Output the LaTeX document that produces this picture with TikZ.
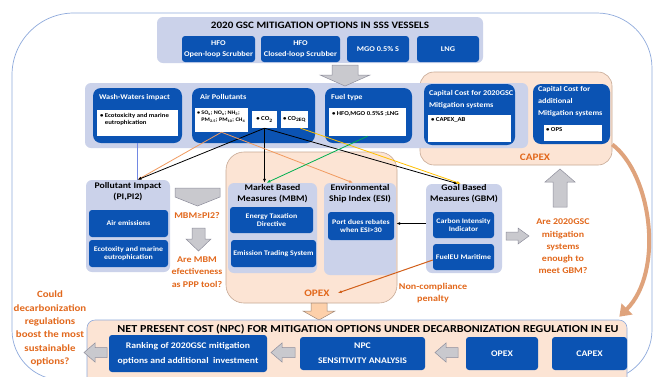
\documentclass[tikz,border=0pt]{standalone}
\usepackage{fontspec}
\setmainfont{Carlito}[FakeStretch=1.13]
\usetikzlibrary{arrows.meta,positioning,calc}

\definecolor{gscblue}{HTML}{0B53B3}
\definecolor{lav}{HTML}{CBD2EA}
\definecolor{peach}{HTML}{FCE4D4}
\definecolor{peachline}{HTML}{C7A995}
\definecolor{qorange}{HTML}{E2681C}
\definecolor{framebl}{HTML}{8FAADC}
\definecolor{arrowgray}{HTML}{C9C9CE}
\definecolor{arrowline}{HTML}{8E8E9C}
\definecolor{lightorange}{HTML}{F19A5E}
\definecolor{penaltyor}{HTML}{D2601A}
\definecolor{curvetan}{HTML}{DFA37C}
\definecolor{goldline}{HTML}{FFC000}
\definecolor{greenline}{HTML}{00B050}

\tikzset{
  bluebox/.style={fill=gscblue, rounded corners=3pt, text=white, align=center, inner sep=1pt,
    font=\bfseries\fontsize{7}{8.3}\selectfont},
  optbox/.style={bluebox, font=\bfseries\fontsize{7.3}{11.5}\selectfont},
  npcbox/.style={bluebox, font=\bfseries\fontsize{8.6}{15}\selectfont},
  bigblue/.style={fill=gscblue, rounded corners=8pt, inner sep=0pt},
  boxtitle/.style={text=white, font=\bfseries\fontsize{7.3}{12}\selectfont, align=left, inner sep=0pt, anchor=north west},
  lavbox/.style={fill=lav, rounded corners=6pt, inner sep=0pt},
  lavtitle/.style={font=\bfseries\fontsize{8.6}{11}\selectfont, align=center, inner sep=0pt},
  itembox/.style={fill=white, inner sep=0pt, font=\bfseries\fontsize{6}{7.5}\selectfont},
  itemtext/.style={font=\bfseries\fontsize{6}{7.5}\selectfont, align=left, inner sep=0pt, anchor=north west},
  peachbox/.style={fill=peach, draw=peachline, line width=0.6pt, rounded corners=14pt, inner sep=0pt},
  qtext/.style={text=qorange, font=\bfseries\fontsize{8.8}{12.2}\selectfont, align=center, inner sep=0pt},
  costlabel/.style={qtext, font=\bfseries\fontsize{9.9}{11}\selectfont},
  grayarrow/.style={fill=arrowgray, draw=arrowline, line width=0.5pt},
  link/.style={-{Latex[length=4pt,width=3pt]}, line width=0.8pt},
}

\begin{document}
\begin{tikzpicture}[x=1pt, y=-1pt]
  \useasboundingbox (0,0) rectangle (655,376);
  \clip (0,0) rectangle (655,376);
  \fill[white] (0,0) rectangle (655,376);

  % outer frame
  \draw[framebl, line width=0.7pt] (12,200) [rounded corners=62pt] -- (12,13) -- (330,13)
    [rounded corners=55pt] -- (652,13) -- (652,200)
    [rounded corners=50pt] -- (652,380) -- (330,380) -- (12,380) -- cycle;

  % mitigation options
  \node[lavbox, minimum width=326pt, minimum height=46pt] (optGrp) at (320,40) {};
  \node[font=\bfseries\fontsize{9.8}{10}\selectfont, inner sep=0pt] (optTitle) at (320,25) {2020 GSC MITIGATION OPTIONS IN SSS VESSELS};
  \node[optbox, minimum width=73pt, minimum height=26pt] (hfoOpen) at (218.5,49) {HFO\\Open-loop Scrubber};
  \node[optbox, minimum width=79pt, minimum height=26pt] (hfoClosed) at (300.5,49) {HFO\\Closed-loop Scrubber};
  \node[optbox, minimum width=62pt, minimum height=26pt] (mgo) at (378,49) {MGO 0.5\% S};
  \node[optbox, minimum width=62pt, minimum height=26pt] (lng) at (448,49) {LNG};

  % capex group and middle band
  \node[peachbox, minimum width=192pt, minimum height=93pt] (capexGrp) at (516,118.5) {};
  \node[lavbox, minimum width=443pt, minimum height=65pt] (midBand) at (306.5,115.5) {};
  \draw[grayarrow] (332,65) -- (358,65) -- (358,75) -- (370,75) -- (345,86) -- (320,75) -- (332,75) -- cycle;

  \node[bigblue, minimum width=89pt, minimum height=55pt] (wash) at (137.5,115.5) {};
  \node[boxtitle] (washTitle) at ([shift={(6pt,-6pt)}]wash.north west) {Wash-Waters impact};
  \node[itembox, minimum width=81pt, minimum height=26pt] (washItem) at (137.5,123) {};
  \node[itemtext] (washText) at ([shift={(3pt,-3pt)}]washItem.north west) {• Ecotoxicity and marine\\\phantom{•\ }eutrophication};

  \node[bigblue, minimum width=123pt, minimum height=55pt] (air) at (253.5,115.5) {};
  \node[boxtitle] (airTitle) at ([shift={(8pt,-6pt)}]air.north west) {Air Pollutants};
  \node[itembox, minimum width=53pt, minimum height=24pt] (airGas) at (221.5,120) {};
  \node[itemtext, font=\bfseries\fontsize{5.4}{7.5}\selectfont] (airGasText) at ([shift={(2pt,-2.5pt)}]airGas.north west)
    {• SO\textsubscript{x}; NO\textsubscript{x}; NH\textsubscript{3};\\\phantom{•\ }PM\textsubscript{2.5}; PM\textsubscript{10}; CH\textsubscript{4}};
  \node[itembox, minimum width=25pt, minimum height=17pt] (airCO) at (264.5,119.5) {• CO\textsubscript{2}};
  \node[itembox, minimum width=27pt, minimum height=17pt] (airCOeq) at (294.5,119.5) {• CO\textsubscript{2EQ}};

  \node[bigblue, minimum width=87pt, minimum height=55pt] (fuel) at (368.5,115.5) {};
  \node[boxtitle] (fuelTitle) at ([shift={(6pt,-6pt)}]fuel.north west) {Fuel type};
  \node[itembox, minimum width=77pt, minimum height=28pt] (fuelItem) at (367.5,122) {};
  \node[itemtext] (fuelText) at ([shift={(3pt,-3pt)}]fuelItem.north west) {• HFO,MGO 0.5\%S ;LNG};

  \node[bigblue, minimum width=91pt, minimum height=61pt] (capAB) at (469.5,114.5) {};
  \node[boxtitle] (capABTitle) at ([shift={(5pt,-6pt)}]capAB.north west) {Capital Cost for 2020GSC\\Mitigation systems};
  \node[itembox, minimum width=83pt, minimum height=27pt] (capABItem) at (469.5,128.5) {};
  \node[itemtext] (capABText) at ([shift={(3pt,-3pt)}]capABItem.north west) {• CAPEX\_AB};

  \node[bigblue, minimum width=77pt, minimum height=60pt] (capAdd) at (571.5,114) {};
  \node[boxtitle] (capAddTitle) at ([shift={(5pt,-2pt)}]capAdd.north west) {Capital Cost for\\additional\\Mitigation systems};
  \node[itembox, minimum width=58pt, minimum height=16pt] (capAddItem) at (573,133) {};
  \node[itemtext] (capAddText) at ([shift={(2pt,-3pt)}]capAddItem.north west) {• OPS};
  \node[costlabel] (capexLabel) at (535,157) {CAPEX};

  % pollutant impact
  \node[lavbox, minimum width=84pt, minimum height=92pt] (piGrp) at (128,226) {};
  \node[lavtitle] (piTitle) at (128,192) {Pollutant Impact\\(PI,PI2)};
  \node[bluebox, minimum width=79pt, minimum height=27pt] (piAir) at (128.5,223.5) {Air emissions};
  \node[bluebox, minimum width=79pt, minimum height=27pt] (piEco) at (128.5,253.5) {Ecotoxity and marine\\eutrophication};
  \draw[grayarrow] (175,188) -- (220,188) -- (220,197) -- (197.5,206) -- (175,197) -- cycle;
  \node[qtext] (qMbm) at (197,215) {MBM≥PI2?};
  \draw[grayarrow] (192,228) -- (205,228) -- (205,239) -- (211,239) -- (198.5,251) -- (186,239) -- (192,239) -- cycle;
  \node[qtext] (qPpp) at (197,272) {Are MBM\\efectiveness\\as PPP tool?};

  % opex group
  \node[peachbox, rounded corners=18pt, minimum width=171pt, minimum height=151pt] (opexGrp) at (311.5,227.5) {};
  \node[costlabel] (opexLabel) at (317,293) {OPEX};
  \node[lavbox, minimum width=89pt, minimum height=90pt] (mbm) at (272.5,228) {};
  \node[lavtitle] (mbmTitle) at (272.5,193.5) {Market Based\\Measures (MBM)};
  \node[bluebox, minimum width=83pt, minimum height=26pt] (mbmEtd) at (271.5,220) {Energy Taxation\\Directive};
  \node[bluebox, minimum width=85pt, minimum height=27pt] (mbmEts) at (273.5,253.5) {Emission Trading System};
  \node[lavbox, minimum width=72pt, minimum height=92pt] (esi) at (360,229) {};
  \node[lavtitle] (esiTitle) at (360,193.5) {Environmental\\Ship Index (ESI)};
  \node[bluebox, minimum width=66pt, minimum height=28pt] (esiPort) at (361,226) {Port dues rebates\\when ESI>30};

  % goal based measures
  \node[lavbox, minimum width=76pt, minimum height=89pt] (gbm) at (464,228.5) {};
  \node[lavtitle] (gbmTitle) at (464,193.5) {Goal Based\\Measures (GBM)};
  \node[bluebox, minimum width=61pt, minimum height=26pt] (gbmCii) at (463.5,225) {Carbon Intensity\\Indicator};
  \node[bluebox, minimum width=61pt, minimum height=26pt] (gbmFuel) at (463.5,257) {FuelEU Maritime};
  \draw[grayarrow] (506,232) -- (518,232) -- (518,228) -- (529,236) -- (518,244) -- (518,240) -- (506,240) -- cycle;
  \node[qtext] (qGbm) at (563,246.5) {Are 2020GSC\\mitigation\\systems\\enough to\\meet GBM?};
  \draw[grayarrow] (553,207) -- (553,182) -- (545,182) -- (560,169) -- (575,182) -- (567,182) -- (567,207) -- cycle;
  \node[qtext, font=\bfseries\fontsize{8.9}{11.5}\selectfont] (penaltyText) at (433,293) {Non-compliance\\penalty};

  % net present cost
  \draw[fill=peach!80!orange, draw=peachline!80!black, line width=0.5pt] (311,303) -- (327,303) -- (327,311) -- (335,311) -- (319,320) -- (303,311) -- (311,311) -- cycle;
  \node[peachbox, draw=framebl, rounded corners=8pt, minimum width=540pt, minimum height=70pt] (npcBand) at (357,355) {};
  \node[font=\bfseries\fontsize{10.7}{12}\selectfont, inner sep=0pt] (npcTitle) at (368,329) {NET PRESENT COST (NPC) FOR MITIGATION OPTIONS UNDER DECARBONIZATION REGULATION IN EU};
  \node[npcbox, minimum width=158pt, minimum height=37pt] (rank) at (188,353.5) {Ranking of 2020GSC mitigation\\options and additional\ \ investment};
  \node[npcbox, minimum width=125pt, minimum height=33pt] (npc) at (362.5,353.5) {NPC\\SENSITIVITY ANALYSIS};
  \node[npcbox, minimum width=72pt, minimum height=33pt] (opexB) at (502,353.5) {OPEX};
  \node[npcbox, minimum width=75pt, minimum height=33pt] (capexB) at (589.5,353.5) {CAPEX};
  \foreach \tx/\bx in {435/458, 271/295, 84/107} {
    \draw[grayarrow] (\bx,347.5) -- (\tx+11,347.5) -- (\tx+11,343) -- (\tx,352.5) -- (\tx+11,362) -- (\tx+11,357.5) -- (\bx,357.5) -- cycle;
  }
  \node[qtext, font=\bfseries\fontsize{9.6}{13.3}\selectfont] (qBoost) at (50,328.5) {Could\\decarbonization\\regulations\\boost the most\\sustainable\\options?};

  % curved capex arrow
  \draw[curvetan, line width=4pt, -{Triangle[length=11pt,width=15pt]}] ([yshift=-26pt]capexGrp.east) .. controls (652,175) and (664,272) .. ([shift={(-8pt,3pt)}]npcBand.north east);

  % connectors
  \coordinate (piIn) at (wash.south |- piGrp.north);
  \coordinate (mbmIn) at (airCO.south |- mbm.north);
  \coordinate (gbmIn) at ([xshift=-6pt]gbm.north);
  \coordinate (esiIn) at ([xshift=-7pt]esi.north);
  \draw[framebl!80!blue, line width=0.8pt] (wash.south) -- (piIn);
  \draw[link, lightorange] (airGas.south) -- (piIn);
  \draw[link] (airCO.south) -- (piIn);
  \draw[link] (airCO.south) -- (mbmIn);
  \draw[link] (airCO.south) -- (gbmIn);
  \draw[link, goldline] ([xshift=6pt]airCOeq.south) -- ([xshift=3pt]gbmIn);
  \draw[link, lightorange] (airGas.south) -- (esiIn);
  \draw[link, greenline] (fuelItem.south) -- ([xshift=2pt]mbmIn);
  \draw[link] ([yshift=5pt]gbm.west) -- ([yshift=5pt]gbm.west -| esi.east);
  \draw[link, penaltyor, line width=1pt] ([yshift=-3pt]gbmFuel.west) -- ([xshift=8pt]opexLabel.east);
\end{tikzpicture}
\end{document}
